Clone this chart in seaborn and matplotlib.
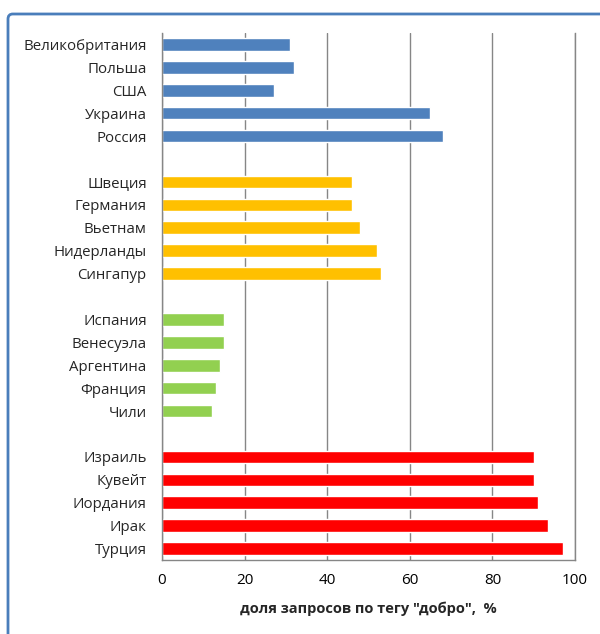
import pandas as pd
import numpy as np
import matplotlib
matplotlib.use("Agg")
import matplotlib.pyplot as plt
import seaborn as sns
from matplotlib.patches import FancyBboxPatch

# Data
group_uk = ["Великобритания", "Польша", "США", "Украина", "Россия"]
vals_uk = [31, 32, 27, 65, 68]
group_sw = ["Швеция", "Германия", "Вьетнам", "Нидерланды", "Сингапур"]
vals_sw = [46, 46, 48, 52, 53]
group_es = ["Испания", "Венесуэла", "Аргентина", "Франция", "Чили"]
vals_es = [15, 15, 14, 13, 12]
group_il = ["Израиль", "Кувейт", "Иордания", "Ирак", "Турция"]
vals_il = [90, 90, 91, 93.5, 97]

group_names = ["g1", "g2", "g3", "g4"]
group_colors = ["#4F81BD", "#FFC000", "#92D050", "#FF0000"]

rows = []
for g, names, vals in zip(group_names, [group_uk, group_sw, group_es, group_il],
                          [vals_uk, vals_sw, vals_es, vals_il]):
    for n, v in zip(names, vals):
        rows.append({"country": n, "value": v, "group": g})
df = pd.DataFrame(rows)

# empty slots between groups
order = group_uk + [" "] + group_sw + ["  "] + group_es + ["   "] + group_il

sns.set_style("white")
plt.rcParams["font.family"] = ["Open Sans", "DejaVu Sans"]

fig = plt.figure(figsize=(6.0, 6.34), dpi=100)
ax = fig.add_axes([162 / 600, 1 - 560 / 634, (575 - 162) / 600, (560 - 33) / 634])

sns.barplot(data=df, y="country", x="value", hue="group", order=order,
            palette=dict(zip(group_names, group_colors)), dodge=False,
            width=0.55, orient="h", legend=False, ax=ax, saturation=1)

ax.set_xlim(0, 100)
ax.set_ylim(len(order) - 0.5, -0.5)
ax.set_xticks(np.arange(0, 101, 20))
ax.tick_params(axis="x", labelsize=11, length=5, color="#868686", direction="out",
               pad=4, labelcolor="#000000")
ax.tick_params(axis="y", which="major", length=0, labelsize=10.8, pad=11)
ax.set_yticks(np.arange(-0.5, len(order)), minor=True)
ax.tick_params(axis="y", which="minor", length=5, color="#868686", direction="out")
ax.set_ylabel("")
ax.set_xlabel('доля запросов по тегу "добро",  %', fontsize=10.5, fontweight="bold",
              labelpad=10)
ax.grid(axis="x", color="#868686", linewidth=1)
ax.set_axisbelow(True)
ax.spines["top"].set_visible(False)
for side in ["left", "bottom", "right"]:
    ax.spines[side].set_color("#868686")
    ax.spines[side].set_linewidth(1)

# outer chart border (cut off at right and bottom like the reference)
border = FancyBboxPatch((8 / 600, -0.2), 1.2, 1 - 14 / 634 + 0.2,
                        boxstyle="round,pad=0,rounding_size=0.008",
                        transform=fig.transFigure, fill=False,
                        edgecolor="#4A7EBB", linewidth=2, clip_on=False)
fig.patches.append(border)

fig.savefig("out.png", dpi=100)
